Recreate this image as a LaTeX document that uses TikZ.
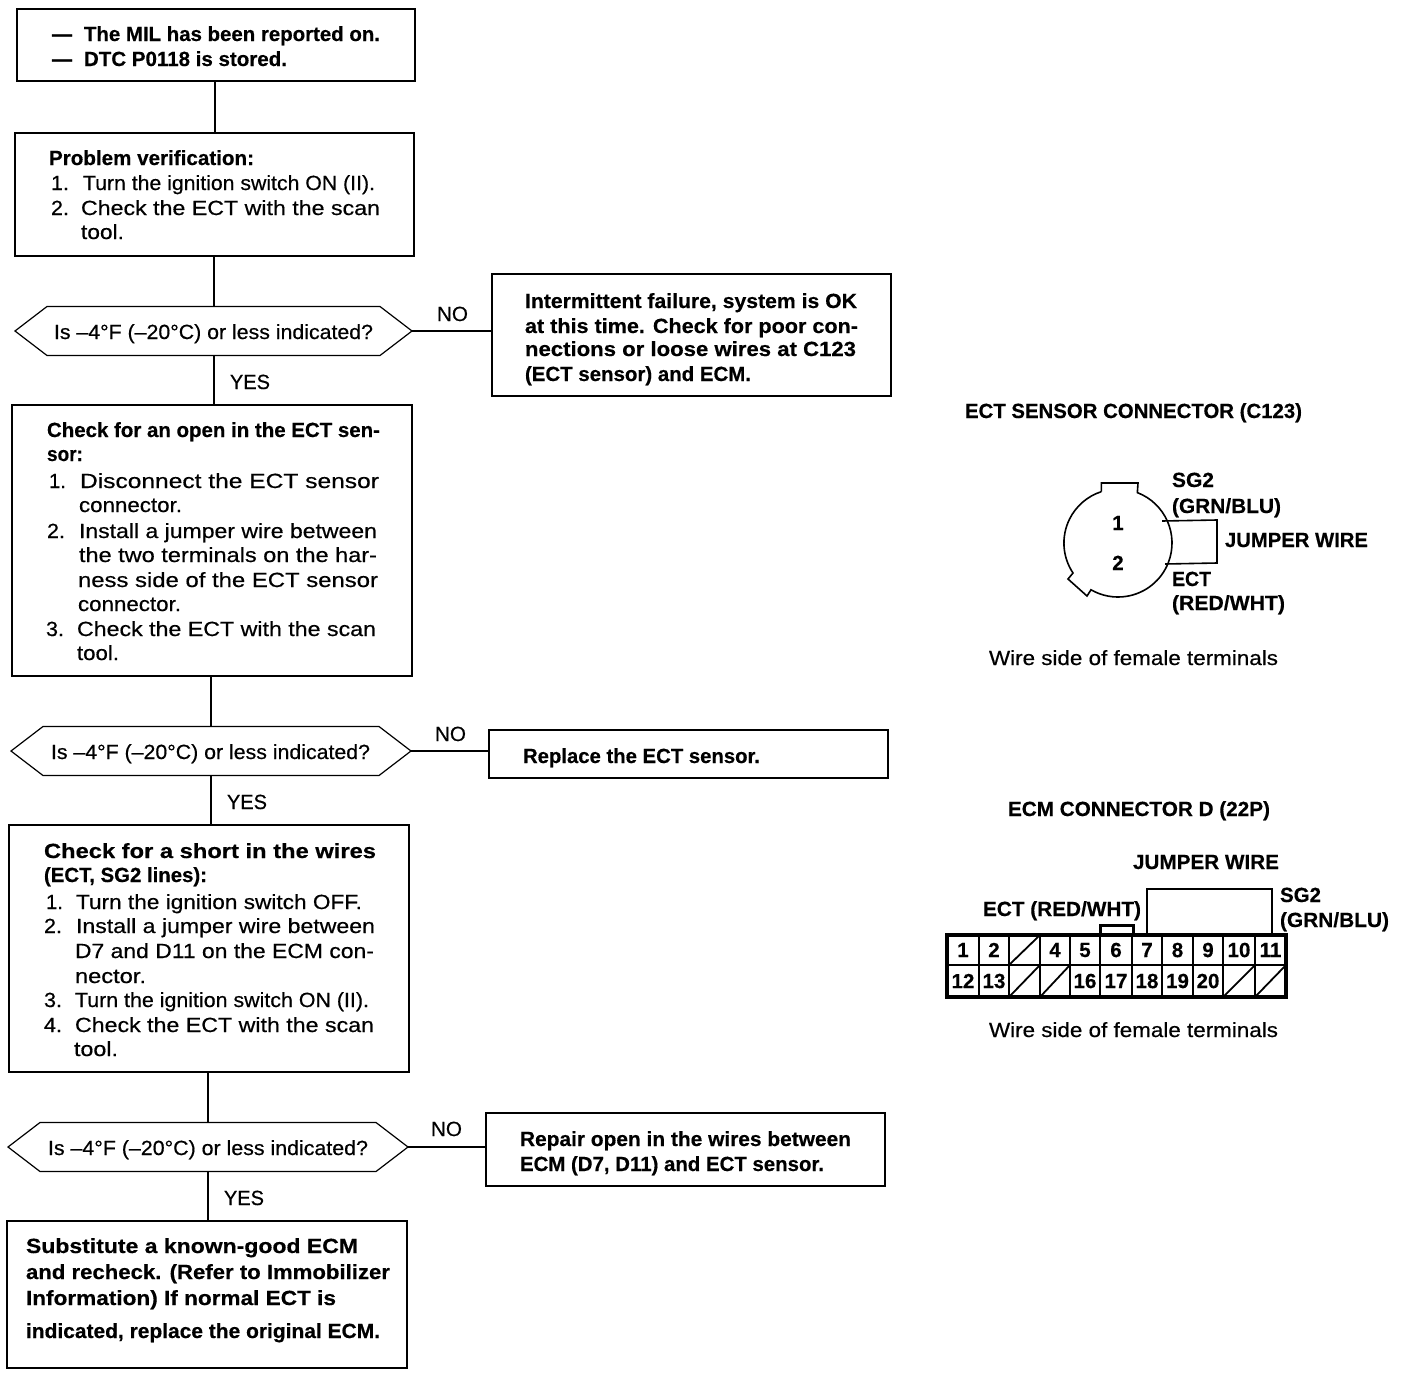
\documentclass[tikz,border=0pt]{standalone}
\usepackage{fontspec}
\setmainfont[BoldFeatures={FakeBold=0.4}]{Liberation Sans}
\newfontfamily\rgf[FakeBold=0.45]{Liberation Sans}
\newcommand\bdf{\rmfamily\bfseries}
\newcounter{tlc}
\newsavebox\tlbox
\newlength\tldim
% #1 font, #2 x left, #3 baseline, #4 x right, #5 text
\newcommand\tline[5]{%
  \stepcounter{tlc}%
  \node[anchor=base west,inner sep=0pt,outer sep=0pt] (tl\thetlc) at (#2,#3) {%
    \sbox\tlbox{\fontsize{20.5pt}{24pt}#1#5}%
    \setlength\tldim{\wd\tlbox}%
    \pgfmathsetmacro\tlr{(#4-#2)/\tldim}%
    \scalebox{\tlr}[1]{\usebox\tlbox}};%
}
\newcommand\rl[4]{\tline{\rgf}{#1}{#2}{#3}{#4}}
\newcommand\bl[4]{\tline{\bdf}{#1}{#2}{#3}{#4}}
\newcommand\num[3]{\stepcounter{tlc}\node[inner sep=0pt,anchor=base] (tl\thetlc) at (#1,#2) {\fontsize{20.5pt}{24pt}\bdf #3};}
% name, left, top, right, bottom
\newcommand\bx[5]{%
  \node[boxn,minimum width=#4pt-#2pt,minimum height=#5pt-#3pt] (#1) at ({(#2+#4)/2},{(#3+#5)/2}) {};%
  \draw[shadow line] (#1.south west) -- (#1.south east) -- (#1.north east);%
}
\newcommand\hexa[4]{%
  \node[hexn,minimum width=#3pt-#2pt,minimum height=49pt] (#1) at ({(#2+#3)/2},#4) {};%
  \draw[boxline] (#1.west) -- ([xshift=32pt]#1.north west) -- ([xshift=-32pt]#1.north east) -- (#1.east)
     -- ([xshift=-32pt]#1.south east) -- ([xshift=32pt]#1.south west) -- cycle;%
}
\tikzset{
  boxline/.style={line width=1.2pt,line join=miter},
  shadow line/.style={line width=1.8pt},
  boxn/.style={draw,line width=1.2pt,inner sep=0pt,outer sep=0pt,rectangle},
  hexn/.style={inner sep=0pt,outer sep=0pt,rectangle},
  link/.style={line width=1.2pt},
  wire/.style={line width=1.6pt},
  cellbox/.style={draw,line width=2.2pt,inner sep=0pt,outer sep=0pt,font=\fontsize{20.5pt}{24pt}\bdf},
  frame/.style={draw,line width=3.4pt,inner sep=0pt,outer sep=0pt},
  diag/.style={line width=1.8pt},
  x=1pt,y=-1pt
}
\begin{document}
\begin{tikzpicture}
\useasboundingbox[fill=white] (0,0) rectangle (1408,1376);
% boxes
\bx{b1}{17}{9}{415}{81}
\bx{b2}{15}{133}{414}{256}
\bx{b3}{492}{274}{891}{396}
\bx{b4}{12}{405}{412}{676}
\bx{b5}{489}{730}{888}{778}
\bx{b6}{9}{825}{409}{1072}
\bx{b7}{486}{1113}{885}{1186}
\bx{b8}{7}{1221}{407}{1368}
\hexa{d1}{15}{412}{331}
\hexa{d2}{11}{411}{751}
\hexa{d3}{8}{408}{1147}
% connectors
\draw[link] (b1.south -| 215,0) -- (b2.north -| 215,0);
\draw[link] (b2.south -| 214,0) -- (d1.north -| 214,0);
\draw[link] (d1.south -| 214,0) -- (b4.north -| 214,0);
\draw[link] (d1.east) -- (b3.west |- d1.east);
\draw[link] (b4.south -| 211,0) -- (d2.north -| 211,0);
\draw[link] (d2.south -| 211,0) -- (b6.north -| 211,0);
\draw[link] (d2.east) -- (b5.west |- d2.east);
\draw[link] (b6.south -| 208,0) -- (d3.north -| 208,0);
\draw[link] (d3.south -| 208,0) -- (b8.north -| 208,0);
\draw[link] (d3.east) -- (b7.west |- d3.east);
% b1
\bl{52}{41}{72}{—}\bl{84}{41}{380}{The MIL has been reported on.}
\bl{52}{66}{72}{—}\bl{84}{66}{287}{DTC P0118 is stored.}
% b2
\bl{49}{165}{254}{Problem verification:}
\rl{51}{190}{69}{1.}\rl{83}{190}{375}{Turn the ignition switch ON (II).}
\rl{51}{215}{69}{2.}\rl{81}{215}{380}{Check the ECT with the scan}
\rl{81}{239}{124}{tool.}
% d1
\rl{54}{339}{373}{Is –4°F (–20°C) or less indicated?}
\rl{437}{321}{468}{NO}\rl{230}{389}{270}{YES}
% b3
\bl{525}{308}{857}{Intermittent failure, system is OK}
\bl{525}{333}{858}{at this time. Check for poor con-}
\bl{525}{356}{856}{nections or loose wires at C123}
\bl{525}{381}{751}{(ECT sensor) and ECM.}
% b4
\bl{47}{437}{380}{Check for an open in the ECT sen-}
\bl{47}{461}{83}{sor:}
\rl{49}{488}{66}{1.}\rl{80}{488}{379}{Disconnect the ECT sensor}
\rl{79}{512}{182}{connector.}
\rl{47}{538}{65}{2.}\rl{79}{538}{377}{Install a jumper wire between}
\rl{79}{562}{377}{the two terminals on the har-}
\rl{78}{587}{378}{ness side of the ECT sensor}
\rl{78}{611}{181}{connector.}
\rl{46}{636}{64}{3.}\rl{77}{636}{376}{Check the ECT with the scan}
\rl{77}{660}{119}{tool.}
% d2
\rl{51}{759}{370}{Is –4°F (–20°C) or less indicated?}
\rl{435}{741}{466}{NO}\rl{227}{809}{267}{YES}
\bl{523}{763}{760}{Replace the ECT sensor.}
% b6
\bl{44}{858}{376}{Check for a short in the wires}
\bl{44}{882}{207}{(ECT, SG2 lines):}
\rl{46}{909}{63}{1.}\rl{76}{909}{362}{Turn the ignition switch OFF.}
\rl{44}{933}{62}{2.}\rl{76}{933}{375}{Install a jumper wire between}
\rl{75}{958}{374}{D7 and D11 on the ECM con-}
\rl{75}{983}{146}{nector.}
\rl{44}{1007}{62}{3.}\rl{75}{1007}{369}{Turn the ignition switch ON (II).}
\rl{44}{1032}{62}{4.}\rl{75}{1032}{374}{Check the ECT with the scan}
\rl{74}{1056}{118}{tool.}
% d3
\rl{48}{1155}{368}{Is –4°F (–20°C) or less indicated?}
\rl{431}{1136}{462}{NO}\rl{224}{1205}{264}{YES}
\bl{520}{1146}{851}{Repair open in the wires between}
\bl{520}{1171}{824}{ECM (D7, D11) and ECT sensor.}
% b8
\bl{26}{1253}{358}{Substitute a known-good ECM}
\bl{26}{1279}{390}{and recheck. (Refer to Immobilizer}
\bl{26}{1305}{336}{Information) If normal ECT is}
\bl{26}{1338}{380}{indicated, replace the original ECM.}
% ECT sensor connector
\bl{965}{418}{1302}{ECT SENSOR CONNECTOR (C123)}
\draw[wire] (1101.3,491.6) -- (1101.3,483) -- (1138,483) -- (1137.35,492.6)
  arc[start angle=69,end angle=-120,radius=54pt]
  -- (1087,596) -- (1068,579) -- (1073,573)
  arc[start angle=213.7,end angle=108,radius=54pt];
\draw[wire] (1162,521) -- (1217,520) -- (1217,563) -- (1165,564);
\num{1118}{530}{1}
\num{1118}{570}{2}
\bl{1172}{487}{1214}{SG2}
\bl{1172}{513}{1281}{(GRN/BLU)}
\bl{1225}{547}{1368}{JUMPER WIRE}
\bl{1172}{586}{1211}{ECT}
\bl{1172}{610}{1285}{(RED/WHT)}
\rl{989}{665}{1278}{Wire side of female terminals}
% ECM connector
\bl{1008}{816}{1270}{ECM CONNECTOR D (22P)}
\bl{1133}{869}{1279}{JUMPER WIRE}
\bl{983}{916}{1141}{ECT (RED/WHT)}
\bl{1280}{902}{1321}{SG2}
\bl{1280}{927}{1389}{(GRN/BLU)}
\foreach \l/\r/\a/\b in {947/979/1/12,979/1009/2/13,1009/1040//,1040/1070/4/,1070/1100/5/16,1100/1132/6/17,1132/1162/7/18,1162/1193/8/19,1193/1223/9/20,1223/1255/10/,1255/1286/11/}{
  \pgfmathsetmacro\cw{\r-\l}
  \pgfmathsetmacro\cm{(\l+\r)/2}
  \node[cellbox,minimum width=\cw pt,minimum height=30pt] (up\l) at (\cm,950) {\a};
  \node[cellbox,minimum width=\cw pt,minimum height=32pt] (lo\l) at (\cm,981) {\b};
}
\draw[diag] (up1009.south west) -- (up1009.north east);
\foreach \k in {1009,1040,1223,1255}{
  \draw[diag] (lo\k.south west) -- (lo\k.north east);
}
\node[frame,minimum width=339pt,minimum height=62pt] (conn) at (1116.5,966) {};
\draw[wire] (conn.north -| 1147,0) -- (1147,889) -- (1272,889) -- (conn.north -| 1272,0);
\draw[line width=3pt] (conn.north -| 1100,0) -- (1100,925) -- (1133,925) -- (conn.north -| 1133,0);
\rl{989}{1037}{1278}{Wire side of female terminals}
\end{tikzpicture}
\end{document}
